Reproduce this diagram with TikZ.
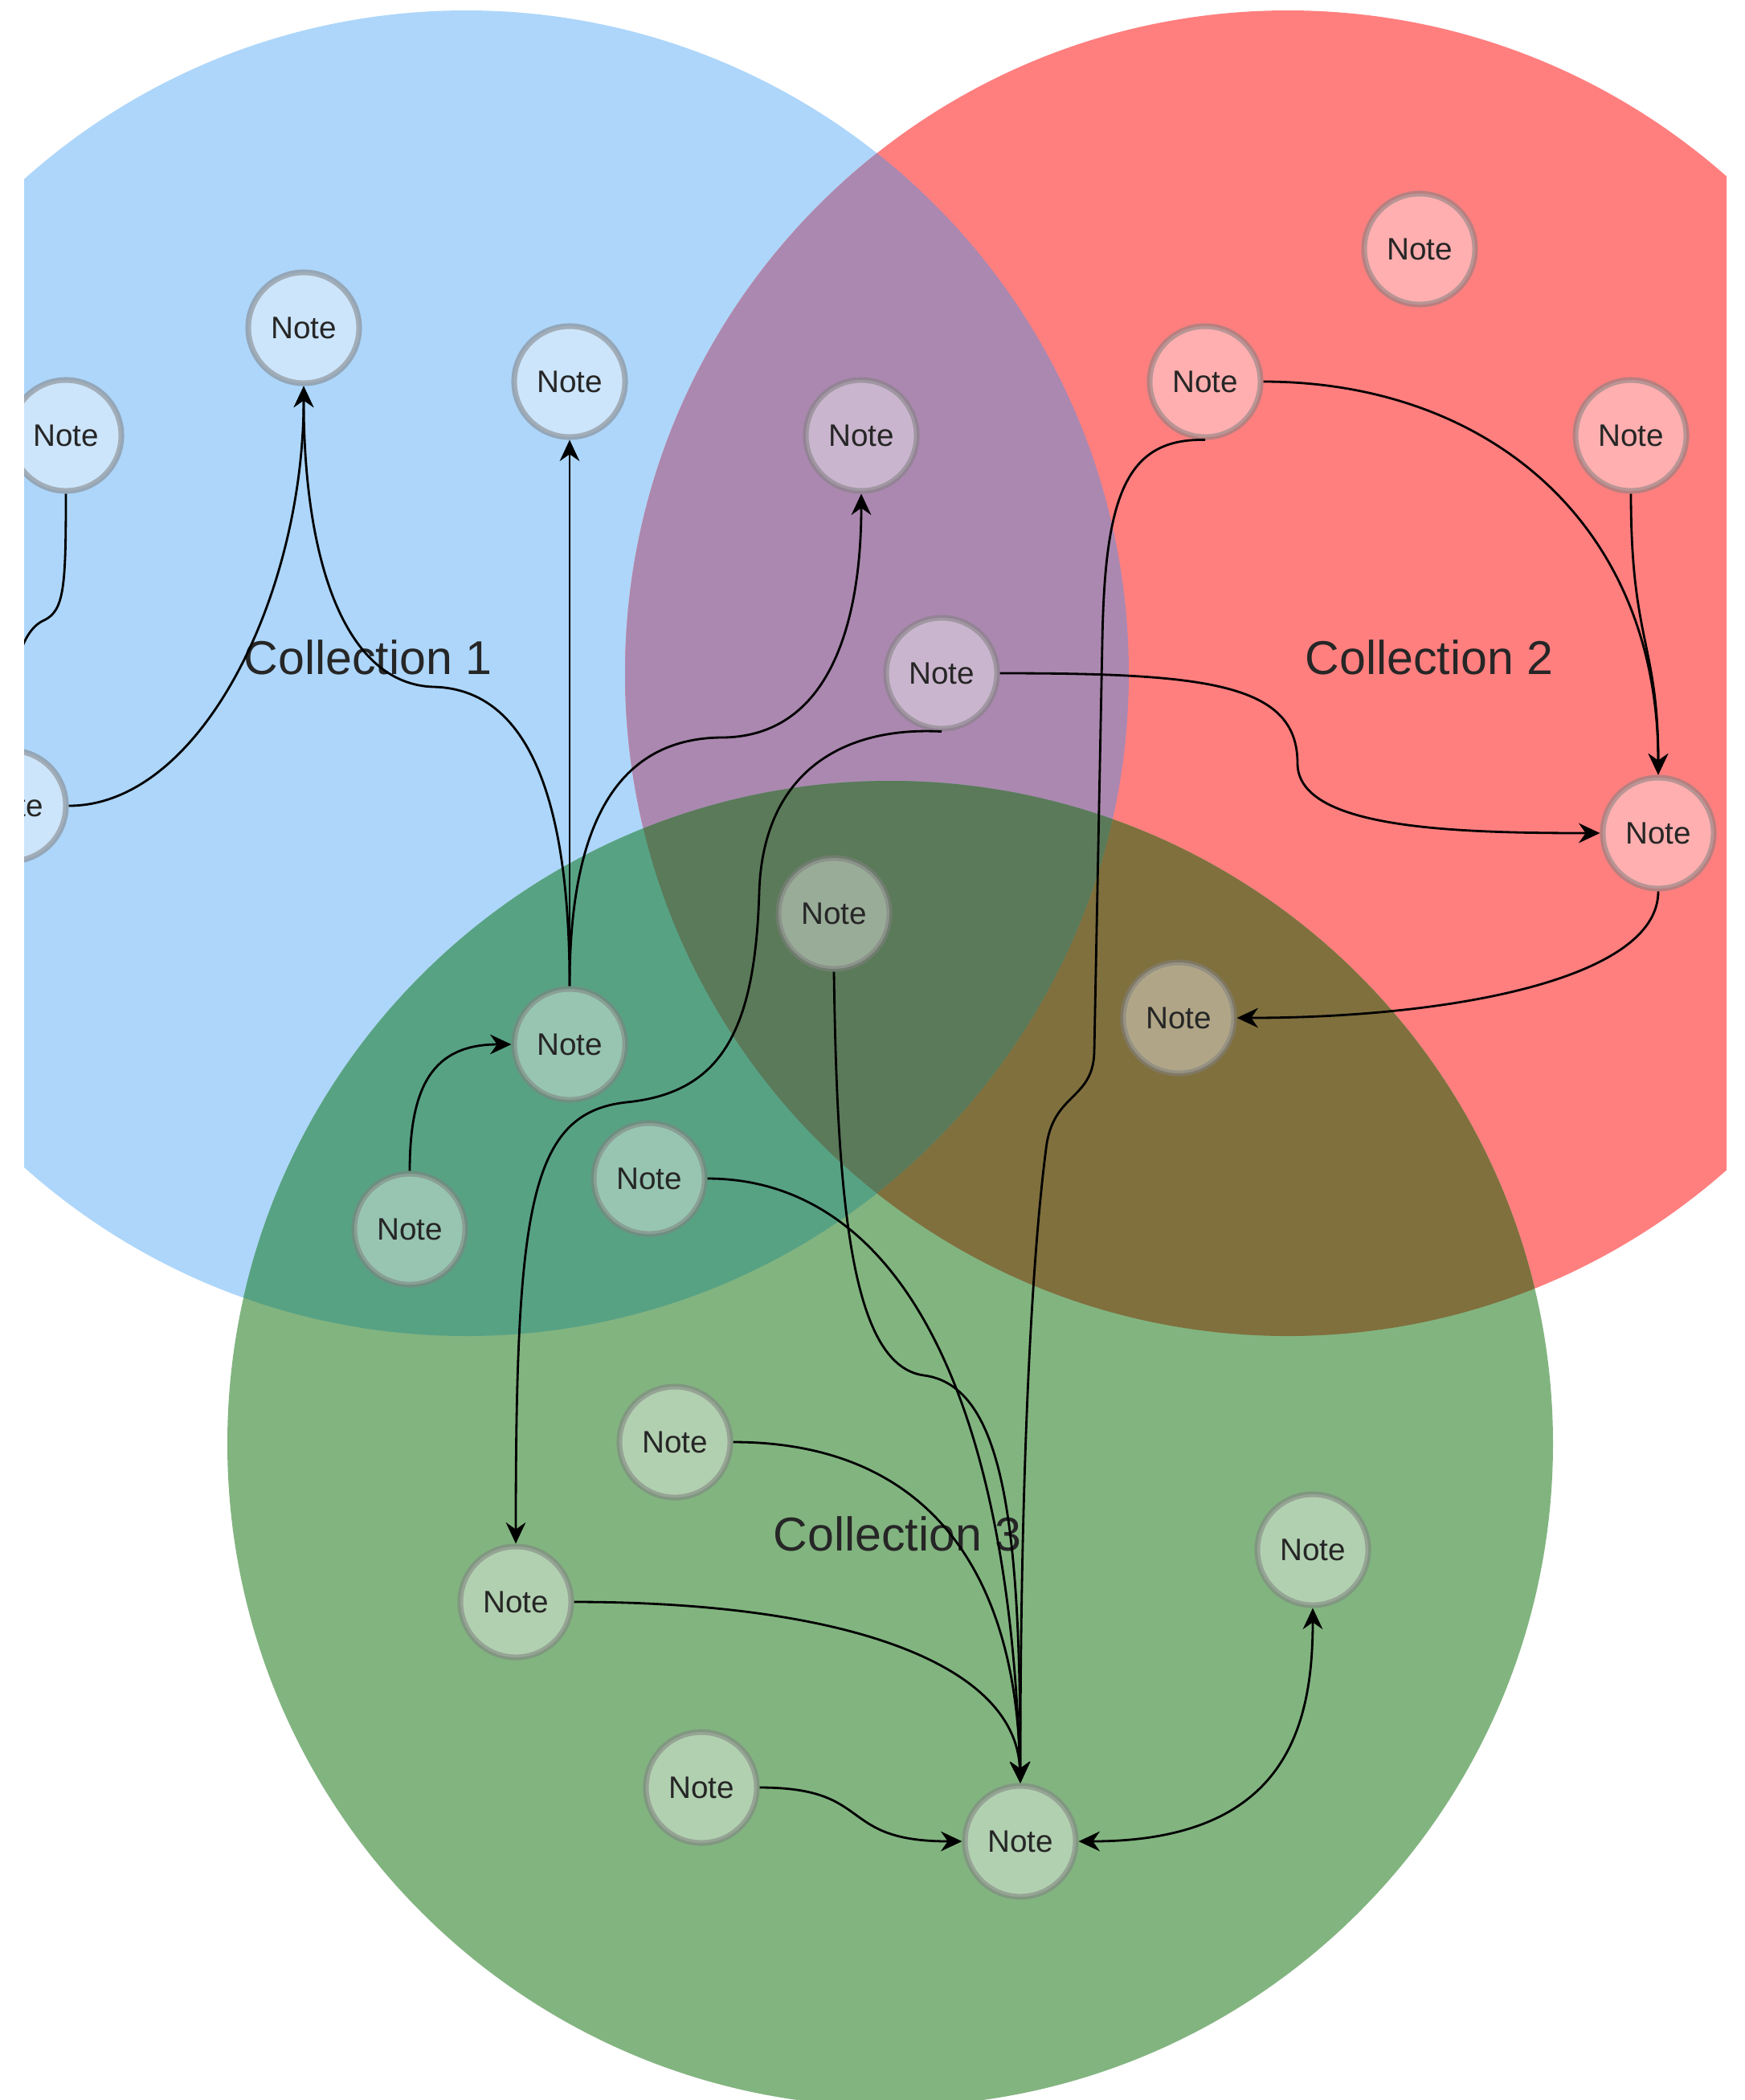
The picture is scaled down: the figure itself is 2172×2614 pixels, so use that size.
\documentclass[tikz,border=0pt]{standalone}
\usepackage{fontspec}
\setmainfont{Liberation Sans}
\usetikzlibrary{arrows.meta}
\definecolor{blueset}{HTML}{ADD6FA}
\definecolor{redset}{HTML}{FF7F7F}
\definecolor{greenset}{HTML}{82B480}
\definecolor{purpleset}{HTML}{AB88B0}
\definecolor{tealset}{HTML}{58A284}
\definecolor{oliveset}{HTML}{80703E}
\definecolor{coreset}{HTML}{5B7A59}
\tikzstyle{note} = [circle, 
minimum size=1.38cm, 
inner sep=0pt, 
line width=2pt, 
draw=gray, draw opacity=0.55, 
fill=white, fill opacity=0.38, 
text opacity=1, text=black!85, 
font=\fontsize{11}{13}\selectfont]
\tikzstyle{setname} = [text=black!85, font=\fontsize{16.8}{20}\selectfont]
\tikzstyle{arrow} = [line width=0.8pt,-{Stealth[length=7.5pt,width=7pt]}]
\tikzstyle{both} = [line width=0.8pt,{Stealth[length=7.5pt,width=7pt]}-{Stealth[length=7.5pt,width=7pt]}]
\begin{document}
\begin{tikzpicture}[x=0.01cm, y=-0.01cm]
        \useasboundingbox (0,0) rectangle (2172,2614);
        \fill[white] (0,0) rectangle (2172,2614);
        \begin{scope}
        \clip (30,0) rectangle (2149,2614);
        % the three collections
        \fill[blueset] (580,838) circle (825);
        \fill[redset] (1603,838) circle (825);
        \fill[greenset] (1108,1797) circle (825);
        \begin{scope}
        \clip (580,838) circle (825);
        \fill[purpleset] (1603,838) circle (825);
        \fill[tealset] (1108,1797) circle (825);
        \clip (1603,838) circle (825);
        \fill[coreset] (1108,1797) circle (825);
        \end{scope}
        \begin{scope}[even odd rule]
        \clip (1603,838) circle (825);
        \clip (-100,-100) rectangle (2300,2700) (580,838) circle (825);
        \fill[oliveset] (1108,1797) circle (825);
        \end{scope}
        \node [setname] at (458,818) {Collection 1};
        \node [setname] at (1779,818) {Collection 2};
        \node [setname] at (1117,1909) {Collection 3};
        % notes
        \node (b1) [note] at (378,408) {Note};
        \node (b2) [note] at (709,475) {Note};
        \node (b3) [note] at (82,542) {Note};
        \node (b4) [note] at (13,1003) {Note};
        \node (b5) [note] at (709,1300) {Note};
        \node (b6) [note] at (510,1530) {Note};
        \node (b7) [note] at (808,1467) {Note};
        \node (p1) [note] at (1072,542) {Note};
        \node (p2) [note] at (1172,838) {Note};
        \node (r1) [note] at (1767,310) {Note};
        \node (r2) [note] at (1500,475) {Note};
        \node (r3) [note] at (2030,542) {Note};
        \node (r4) [note] at (2064,1037) {Note};
        \node (r5) [note] at (1467,1267) {Note};
        \node (c1) [note] at (1038,1137) {Note};
        \node (g1) [note] at (840,1795) {Note};
        \node (g2) [note] at (1634,1929) {Note};
        \node (g3) [note] at (642,1994) {Note};
        \node (g4) [note] at (873,2225) {Note};
        \node (hub) [note] at (1270,2292) {Note};
        % links
        \draw [arrow] (b3.south) .. controls (82,730) and (80,760) .. (55,772) .. controls (25,785) and (13,840) .. (b4.north);
        \draw [arrow] (b4.east) .. controls (250,1003) and (378,740) .. (b1.south);
        \draw [arrow] (b5.north) .. controls (709,1000) and (660,858) .. (540,855) .. controls (430,852) and (378,700) .. (b1.south);
        \draw [arrow] (b5.north) -- (b2.south);
        \draw [arrow] (b5.north) .. controls (709,1040) and (760,918) .. (900,918) .. controls (1040,916) and (1072,760) .. (p1.south);
        \draw [arrow] (b6.north) .. controls (510,1350) and (540,1300) .. (b5.west);
        \draw [arrow] (b7.east) .. controls (1100,1467) and (1255,1700) .. (hub.north);
        \draw [arrow] (p2.east) .. controls (1500,838) and (1615,850) .. (1615,950) .. controls (1615,1030) and (1800,1037) .. (r4.west);
        \draw [arrow] (p2.south) .. controls (1050,904) and (950,960) .. (945,1110) .. controls (940,1280) and (900,1360) .. (780,1372) .. controls (660,1385) and (642,1500) .. (g3.north);
        \draw [arrow] (r2.east) .. controls (1850,475) and (2064,650) .. (r4.north);
        \draw [arrow] (r3.south) .. controls (2030,800) and (2064,800) .. (r4.north);
        \draw [arrow] (r2.south) .. controls (1400,545) and (1375,620) .. (1372,800) -- (1362,1310) .. controls (1360,1370) and (1310,1360) .. (1302,1430) .. controls (1280,1600) and (1270,1900) .. (hub.north);
        \draw [arrow] (r4.south) .. controls (2064,1220) and (1800,1267) .. (r5.east);
        \draw [arrow] (c1.south) .. controls (1042,1500) and (1060,1700) .. (1150,1712) .. controls (1250,1725) and (1270,1900) .. (hub.north);
        \draw [arrow] (g1.east) .. controls (1150,1795) and (1265,1950) .. (hub.north);
        \draw [arrow] (g3.east) .. controls (1050,1994) and (1265,2070) .. (hub.north);
        \draw [arrow] (g4.east) .. controls (1090,2225) and (1040,2292) .. (hub.west);
        \draw [both] (hub.east) .. controls (1600,2292) and (1634,2150) .. (g2.south);
        \end{scope}
    \end{tikzpicture}
\end{document}
